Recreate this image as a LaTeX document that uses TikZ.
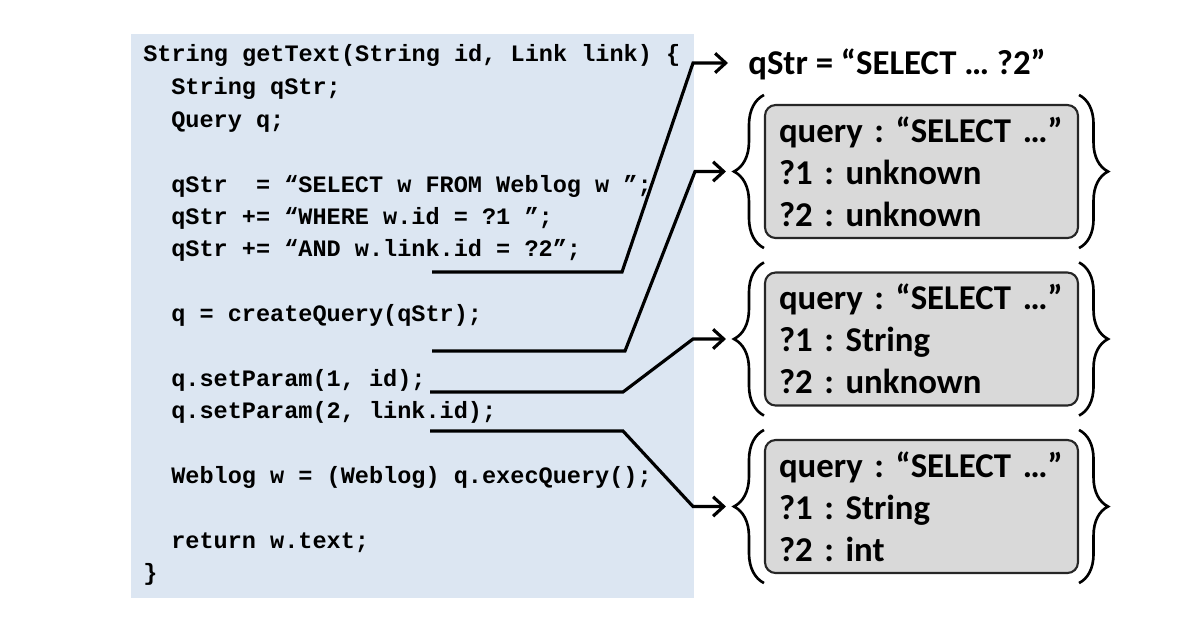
\documentclass[tikz,border=0pt]{standalone}
\usepackage{fontspec}
\setmainfont{Carlito}
\setmonofont{Liberation Mono}
\usepackage{tikz}
\usetikzlibrary{arrows.meta,positioning,decorations.pathreplacing}
\definecolor{codebg}{RGB}{220,230,242}
\definecolor{stategray}{RGB}{217,217,217}
\frenchspacing

\begin{document}
\begin{tikzpicture}[
    x=0.02cm, y=-0.02cm,
    panel/.style={rectangle, fill=codebg, minimum width=11.26cm, minimum height=11.28cm, inner sep=0pt},
    code/.style={anchor=west, inner sep=0pt, text height=7.6pt, text depth=0pt, font=\fontsize{13.4}{16}\selectfont\ttfamily\bfseries},
    state/.style={rectangle, draw=black!85, fill=stategray, line width=1.2pt, rounded corners=6pt, minimum width=6.26cm, minimum height=2.66cm, text width=5.7cm, inner xsep=0.28cm, inner ysep=0pt, align=left, font=\fontsize{19.8}{23.8}\selectfont\bfseries},
    result/.style={anchor=west, inner sep=0pt, text height=12.75pt, text depth=0pt, font=\fontsize{19.8}{23.8}\selectfont\bfseries},
    lbrace/.style={decorate, decoration={brace, amplitude=0.6cm}, line width=1.5pt},
    rbrace/.style={decorate, decoration={brace, amplitude=0.58cm}, line width=1.5pt},
    flow/.style={-{Straight Barb[length=6pt,width=11pt]}, line width=1.8pt}
]
\useasboundingbox (0,0) rectangle (1200,630);

% Source code
\node[panel] (code) at (412.5,316) {};
\node[code] (l1) at (143,54.5) {String getText(String id, Link link) \{};
\node[code] (l2) at (171,87.5) {String qStr;};
\node[code] (l3) at (171,120.5) {Query q;};
\node[code] (l4) at (171,185.5) {qStr~~= “SELECT w FROM Weblog w ”;};
\node[code] (l5) at (171,217.5) {qStr += “WHERE w.id = ?1 ”;};
\node[code] (l6) at (171,249.5) {qStr += “AND w.link.id = ?2”;};
\node[code] (l7) at (171,314.5) {q = createQuery(qStr);};
\node[code] (l8) at (171,379.5) {q.setParam(1, id);};
\node[code] (l9) at (171,411.5) {q.setParam(2, link.id);};
\node[code] (l10) at (171,476.5) {Weblog w = (Weblog) q.execQuery();};
\node[code] (l11) at (171,541.5) {return w.text;};
\node[code] (l12) at (143,573.5) {\}};

% Inferred query states
\node[result] (qstr) at (748,63) {qStr = “SELECT … ?2”};
\node[state] (s1) at (921.5,171.5) {query : “SELECT …”\\?1 : unknown\\?2 : unknown};
\node[state] (s2) at (921.5,339) {query : “SELECT …”\\?1 : String\\?2 : unknown};
\node[state] (s3) at (921.5,506.5) {query : “SELECT …”\\?1 : String\\?2 : int};

% Braces round the states
\draw[lbrace] ([yshift=-0.18cm]s1.south west) -- ([yshift=0.18cm]s1.north west);
\draw[rbrace] ([yshift=0.18cm]s1.north east) -- ([yshift=-0.18cm]s1.south east);
\draw[lbrace] ([yshift=-0.18cm]s2.south west) -- ([yshift=0.18cm]s2.north west);
\draw[rbrace] ([yshift=0.18cm]s2.north east) -- ([yshift=-0.18cm]s2.south east);
\draw[lbrace] ([yshift=-0.18cm]s3.south west) -- ([yshift=0.18cm]s3.north west);
\draw[rbrace] ([yshift=0.18cm]s3.north east) -- ([yshift=-0.18cm]s3.south east);

% Statement markers
\coordinate (p1) at (432,272);
\coordinate (b1) at (622,272);
\coordinate (p2) at (432,351);
\coordinate (b2) at (625,351);
\coordinate (p3) at (430,392);
\coordinate (b3) at (623,392);
\coordinate (p4) at (430,431);
\coordinate (b4) at (623,431);

% Flows from statements to states
\draw[flow] (p1) -- (b1) -- ([xshift=-1.1cm]qstr.west) -- ([xshift=-0.4cm]qstr.west);
\draw[flow] (p2) -- (b2) -- ([xshift=-1.38cm]s1.west) -- ([xshift=-0.76cm]s1.west);
\draw[flow] (p3) -- (b3) -- ([xshift=-1.42cm]s2.west) -- ([xshift=-0.76cm]s2.west);
\draw[flow] (p4) -- (b4) -- ([xshift=-1.42cm]s3.west) -- ([xshift=-0.76cm]s3.west);

\end{tikzpicture}
\end{document}
